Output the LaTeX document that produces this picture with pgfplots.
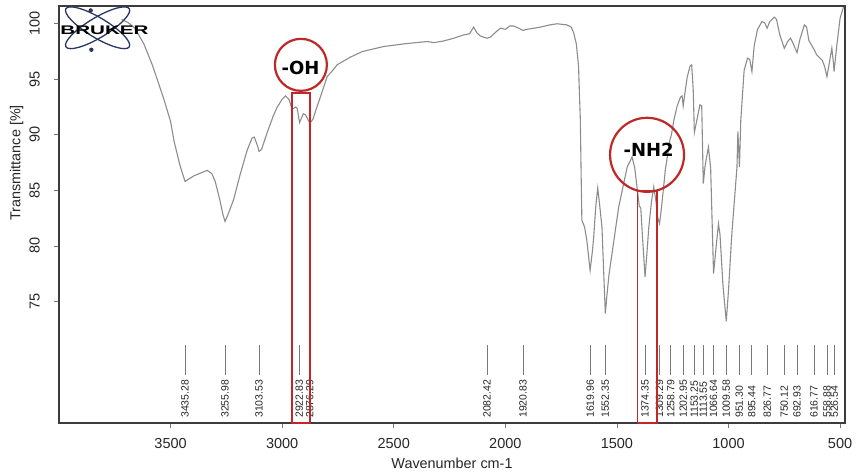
\documentclass[border=0pt]{standalone}
\usepackage{fontspec}
\setmainfont{Liberation Sans}
\newfontfamily\annfont{DejaVu Sans}
\usepackage{pgfplots}
\pgfplotsset{compat=1.18}

\definecolor{curvegray}{RGB}{140,140,140}
\definecolor{peakgray}{RGB}{120,120,120}
\definecolor{annred}{RGB}{190,40,40}
\definecolor{brukerblue}{RGB}{40,55,100}
\definecolor{framegray}{RGB}{60,60,60}

\begin{document}
\begin{tikzpicture}
\useasboundingbox (-59pt,-50pt) rectangle (797pt,423pt);
\begin{axis}[
  at={(0,0)}, anchor=south west,
  scale only axis, width=786pt, height=417pt,
  x dir=reverse,
  xmin=478, xmax=4000,
  ymin=64.05, ymax=101.6,
  xtick={500,1000,...,3500},
  ytick={75,80,...,100},
  tick pos=left,
  tick align=outside,
  major tick length=5pt,
  tick style={peakgray, line width=0.7pt},
  axis line style={framegray, line width=1.2pt},
  /pgf/number format/1000 sep={},
  /pgf/number format/assume math mode=true,
  xticklabel style={font=\fontsize{14.5}{16}\selectfont, text=black!85, inner sep=0pt, anchor=north, yshift=-10pt},
  yticklabel style={font=\fontsize{14.5}{16}\selectfont, text=black!85, inner sep=0pt, xshift=-14pt, rotate=90, anchor=south},
  xlabel={Wavenumber cm-1},
  ylabel={Transmittance [\%]},
  xlabel style={font=\fontsize{14.4}{16}\selectfont, text=black!85, at={(axis description cs:0.5,0)}, anchor=center, yshift=-40pt},
  ylabel style={font=\fontsize{14.4}{16}\selectfont, text=black!85, at={(axis description cs:-0.054,0.624)}, anchor=center},
  clip=false,
]

% spectrum
\addplot[curvegray, line width=1.1pt] table {
x y
3720 100.4
3690 100.1
3660 99.6
3620 98.2
3580 96.2
3530 93.2
3500 91.2
3485 89.5
3460 87.4
3448 86.6
3435 85.8
3420 86.0
3396 86.3
3360 86.6
3336 86.8
3315 86.5
3300 85.8
3280 84.2
3265 82.8
3256 82.2
3245 82.7
3230 83.5
3217 84.2
3190 86.3
3157 88.6
3135 89.7
3125 89.8
3112 89.1
3103 88.5
3092 88.7
3067 90.2
3040 91.7
3022 92.5
3000 93.2
2985 93.5
2970 93.2
2955 92.3
2940 92.5
2933 92.4
2922 91.1
2905 91.9
2895 91.8
2876 91.05
2862 91.4
2851 92.1
2828 93.45
2798 95.25
2769 95.9
2754 96.3
2720 96.7
2694 97.0
2640 97.5
2545 97.95
2450 98.2
2350 98.4
2320 98.3
2277 98.45
2230 98.7
2187 99.0
2160 99.1
2142 99.7
2128 99.2
2112 98.9
2082 98.7
2067 98.8
2040 99.3
2022 99.6
2000 99.5
1980 99.8
1963 99.8
1940 99.6
1921 99.4
1903 99.5
1870 99.6
1843 99.7
1800 99.9
1768 100.0
1724 99.9
1705 99.7
1694 99.2
1682 98.2
1672 96.2
1664 91.4
1660 86.0
1657 82.3
1645 81.7
1635 80.5
1620 77.8
1610 79.5
1604 80.8
1595 83.5
1586 85.2
1578 83.8
1567 81.7
1558 77.0
1552 73.9
1545 75.5
1535 77.5
1522 79.3
1492 83.5
1454 87.1
1432 88.0
1420 87.0
1410 85.3
1400 83.6
1393 83.4
1386 81.0
1374 77.2
1365 79.5
1357 81.7
1345 84.0
1335 85.3
1325 84.0
1318 82.6
1309 82.0
1300 83.5
1283 86.85
1262 89.6
1256 90.0
1245 91.3
1230 92.6
1215 93.4
1208 93.5
1203 92.6
1195 93.8
1185 95.2
1172 96.2
1165 96.3
1158 94.0
1153 90.2
1145 91.0
1128 92.7
1120 92.6
1113 85.6
1105 87.2
1090 88.9
1080 87.0
1067 77.5
1055 80.0
1045 82.0
1038 81.0
1025 76.5
1010 73.2
1000 76.0
985 81.1
962 87.1
958 90.3
951 87.1
945 91.3
930 95.8
915 96.9
905 96.8
895 95.7
885 98.0
870 99.5
850 100.2
838 100.1
827 99.6
815 100.2
795 100.6
785 100.4
770 99.0
750 97.8
735 98.4
722 98.7
710 98.2
693 97.4
680 98.6
660 99.9
650 99.7
640 98.5
617 97.7
605 97.2
595 97.0
580 96.7
570 96.2
559 95.25
548 96.5
537 97.8
530 96.5
527 95.7
515 98.0
500 100.5
485 101.5
};

% peak picks
\pgfplotsinvokeforeach{3435.28,3255.98,3103.53,2922.83,2876.29,2082.42,1920.83,1619.96,1552.35,1374.35,1309.29,1258.79,1202.95,1153.25,1113.55,1066.64,1009.58,951.30,895.44,826.77,750.12,692.93,616.77,558.88,526.54}{
  \draw[peakgray, line width=0.8pt] (axis cs:#1,71.1) -- (axis cs:#1,68.4);
  \node[rotate=90, anchor=west, inner sep=0pt, text=black!85, font=\fontsize{10.5}{11}\selectfont] at (axis cs:#1,64.5) {#1};
}

% annotations
\draw[annred, line width=1.5pt] (axis cs:2955,64.05) rectangle (axis cs:2876,93.75);
\draw[annred, line width=1.5pt] (axis cs:1407,64.05) rectangle (axis cs:1320,85);
\draw[annred, line width=2.2pt] (axis cs:2916,96.3) circle[radius=26pt];
\draw[annred, line width=2.2pt] (axis cs:1365,88.2) circle[radius=37pt];
\node[font=\annfont\bfseries\fontsize{18}{20}\selectfont, anchor=base, inner sep=0pt] at (axis cs:2918,95.4) {-OH};
\node[font=\annfont\bfseries\fontsize{18}{20}\selectfont, anchor=base, inner sep=0pt] at (axis cs:1358,88.05) {-NH2};

% logo
\draw[brukerblue, line width=1.3pt] (axis cs:3827,99.64) ellipse[x radius=37pt, y radius=10pt, rotate=31];
\draw[brukerblue, line width=1.3pt] (axis cs:3827,99.64) ellipse[x radius=37pt, y radius=10pt, rotate=-31];
\fill[brukerblue] (axis cs:3858,101.2) circle[radius=2.2pt];
\fill[brukerblue] (axis cs:3855,97.66) circle[radius=2.2pt];
\node[font=\bfseries\fontsize{12.5}{13}\selectfont, inner sep=0pt, xscale=1.65] at (axis cs:3796,99.41) {BRUKER};

\end{axis}
\end{tikzpicture}
\end{document}
